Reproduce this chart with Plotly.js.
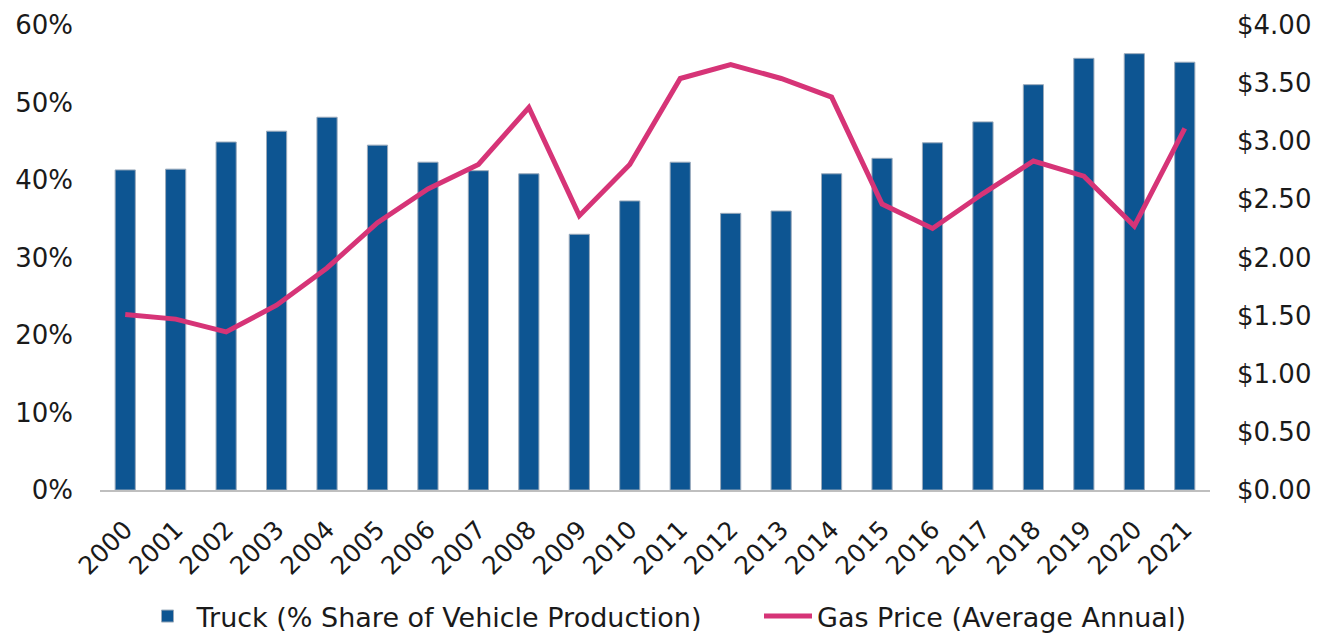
<!DOCTYPE html>
<html>
<head>
<meta charset="utf-8">
<script src="https://cdn.plot.ly/plotly-3.0.1.min.js"></script>
<style>html,body{margin:0;padding:0;background:#fff;}#chart{width:1330px;height:641px;}</style>
</head>
<body>
<div id="chart"></div>
<script>
const years = ["2000","2001","2002","2003","2004","2005","2006","2007","2008","2009","2010","2011","2012","2013","2014","2015","2016","2017","2018","2019","2020","2021"];
const truckShare = [41.3,41.4,44.9,46.3,48.1,44.5,42.3,41.2,40.8,33.0,37.3,42.3,35.7,36.0,40.8,42.8,44.8,47.5,52.3,55.7,56.3,55.2];
const gasPrice = [1.51,1.47,1.36,1.59,1.91,2.30,2.59,2.80,3.29,2.36,2.80,3.54,3.66,3.54,3.38,2.46,2.25,2.55,2.83,2.70,2.27,3.11];
const leftTicks = [0,10,20,30,40,50,60];
const rightTicks = [0,0.5,1,1.5,2,2.5,3,3.5,4];

const tickFont = {family:"DejaVu Sans, Verdana, sans-serif", size:26, color:"#1a1a1a"};
const pad = "\u00a0".repeat(6);

const data = [
  {type:"bar", x:years, y:truckShare, name:"Truck (% Share of Vehicle Production)" + pad,
   marker:{color:"#0d5592", line:{color:"#9aaabb", width:1}}, width:0.4},
  {type:"scatter", mode:"lines", x:years, y:gasPrice, yaxis:"y2", name:"Gas Price (Average Annual)",
   line:{color:"#d63477", width:5}}
];
const layout = {
  width:1330, height:641,
  margin:{l:100, r:120, t:25, b:151},
  paper_bgcolor:"#fff", plot_bgcolor:"#fff",
  showlegend:true,
  legend:{orientation:"h", x:0.5, xanchor:"center", xref:"container", y:0.0, yanchor:"bottom", yref:"container",
    font:{family:"DejaVu Sans, Verdana, sans-serif", size:27, color:"#1a1a1a"},
    itemwidth:48, traceorder:"normal"},
  xaxis:{type:"category", range:[-0.5,21.5], tickangle:-45, automargin:false,
    tickfont:{family:"DejaVu Sans, Verdana, sans-serif", size:25, color:"#1a1a1a"},
    showline:true, linecolor:"#bfbfbf", linewidth:2, showgrid:false, ticks:"", zeroline:false,
    ticklabelstandoff:13, ticklabelshift:0},
  yaxis:{range:[0,60], tickvals:leftTicks, ticktext:leftTicks.map(v=>v+"%"), tickfont:tickFont, automargin:false,
    showgrid:false, zeroline:false, showline:false, ticks:"", ticklabelstandoff:26},
  yaxis2:{range:[0,4], overlaying:"y", side:"right", tickvals:rightTicks, automargin:false,
    ticktext:rightTicks.map(v=>"$"+v.toFixed(2)), tickfont:tickFont,
    showgrid:false, zeroline:false, showline:false, ticks:"", ticklabelstandoff:26},
  bargap:0.6
};
Plotly.newPlot("chart", data, layout, {displayModeBar:false, staticPlot:true});
</script>
</body>
</html>
